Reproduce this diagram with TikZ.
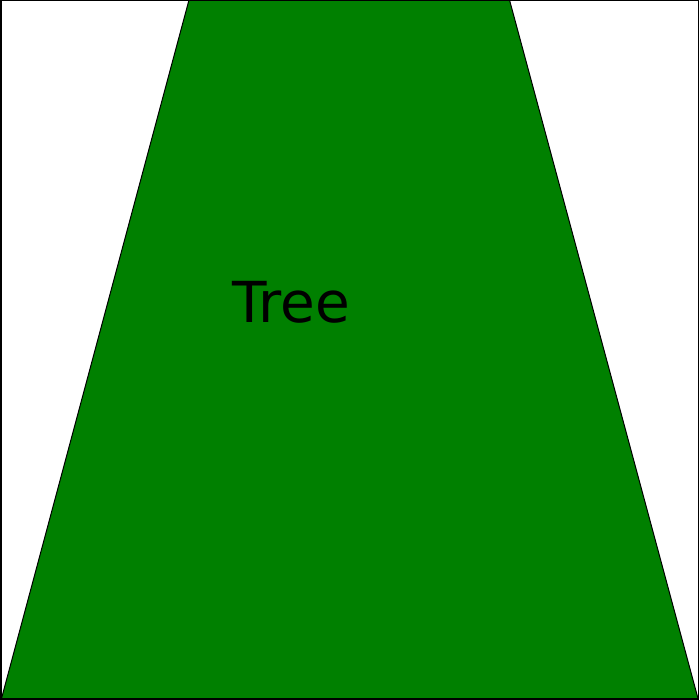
\documentclass[tikz,border=0pt]{standalone}
\usepackage{fontspec}
\setmainfont{DejaVu Sans}
\definecolor{treegreen}{RGB}{0,128,0}
\begin{document}
\begin{tikzpicture}[x=1pt,y=-1pt,
  treeshape/.style={fill=treegreen,draw=black,line width=1pt},
  label/.style={inner sep=0pt,anchor=base west,font=\fontsize{56.5}{64}\selectfont}]
\useasboundingbox (0,0) rectangle (699,700);
\coordinate (tl) at (189,0);
\coordinate (tr) at (509.5,0);
\coordinate (br) at (698,698.5);
\coordinate (bl) at (1.5,698.5);
\draw[treeshape] (tl) -- (tr) -- (br) -- (bl) -- cycle;
\node[label] (tree) at (232.5,322) {Tree};
\draw[line width=1.5pt] (0.75,0.75) rectangle (698.25,699.25);
\end{tikzpicture}
\end{document}
